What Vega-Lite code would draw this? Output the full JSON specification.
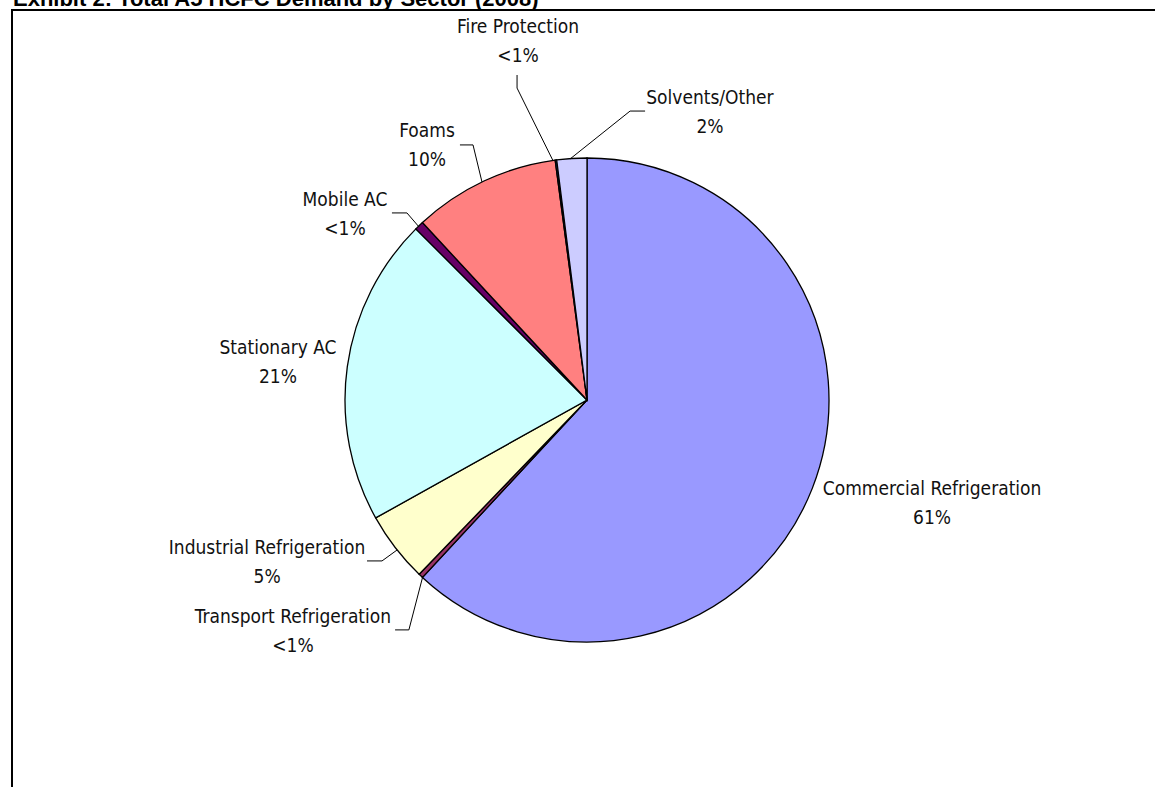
{
  "$schema": "https://vega.github.io/schema/vega-lite/v6.json",
  "width": 1150,
  "height": 780,
  "autosize": {"type": "none"},
  "padding": {"left": 12, "top": 10, "right": 0, "bottom": 0},
  "background": "white",
  "config": {
    "view": {"stroke": "#000000", "strokeWidth": 2},
    "font": "Liberation Sans"
  },
  "datasets": {
    "heading": [
      {"text": "Exhibit 2: Total A5 HCFC Demand by Sector (2008)", "x": -2.372, "y": 1.628}
    ],
    "slices": [
      {"sector": "Commercial Refrigeration", "idx": 1, "share": 61.9},
      {"sector": "Transport Refrigeration", "idx": 2, "share": 0.3},
      {"sector": "Industrial Refrigeration", "idx": 3, "share": 4.7},
      {"sector": "Stationary AC", "idx": 4, "share": 20.6},
      {"sector": "Mobile AC", "idx": 5, "share": 0.6},
      {"sector": "Foams", "idx": 6, "share": 9.8},
      {"sector": "Fire Protection", "idx": 7, "share": 0.1},
      {"sector": "Solvents/Other", "idx": 8, "share": 2.0}
    ],
    "labels": [
      {"sector": "Commercial Refrigeration", "label": "Commercial Refrigeration\n61%", "x": 1.426, "y": -0.426},
      {"sector": "Transport Refrigeration", "label": "Transport Refrigeration\n<1%", "x": -1.215, "y": -0.955},
      {"sector": "Industrial Refrigeration", "label": "Industrial Refrigeration\n5%", "x": -1.322, "y": -0.669},
      {"sector": "Stationary AC", "label": "Stationary AC\n21%", "x": -1.277, "y": 0.157},
      {"sector": "Mobile AC", "label": "Mobile AC\n<1%", "x": -1.0, "y": 0.767},
      {"sector": "Foams", "label": "Foams\n10%", "x": -0.661, "y": 1.054},
      {"sector": "Fire Protection", "label": "Fire Protection\n<1%", "x": -0.285, "y": 1.484},
      {"sector": "Solvents/Other", "label": "Solvents/Other\n2%", "x": 0.508, "y": 1.19}
    ],
    "leaders": [
      {"sector": "Fire Protection", "seq": 1, "x": -0.14, "y": 0.988},
      {"sector": "Fire Protection", "seq": 2, "x": -0.289, "y": 1.289},
      {"sector": "Fire Protection", "seq": 3, "x": -0.289, "y": 1.343},
      {"sector": "Solvents/Other", "seq": 1, "x": -0.07, "y": 0.996},
      {"sector": "Solvents/Other", "seq": 2, "x": 0.178, "y": 1.194},
      {"sector": "Solvents/Other", "seq": 3, "x": 0.24, "y": 1.194},
      {"sector": "Foams", "seq": 1, "x": -0.434, "y": 0.901},
      {"sector": "Foams", "seq": 2, "x": -0.471, "y": 1.054},
      {"sector": "Foams", "seq": 3, "x": -0.525, "y": 1.054},
      {"sector": "Mobile AC", "seq": 1, "x": -0.694, "y": 0.715},
      {"sector": "Mobile AC", "seq": 2, "x": -0.744, "y": 0.773},
      {"sector": "Mobile AC", "seq": 3, "x": -0.806, "y": 0.773},
      {"sector": "Industrial Refrigeration", "seq": 1, "x": -0.785, "y": -0.62},
      {"sector": "Industrial Refrigeration", "seq": 2, "x": -0.847, "y": -0.665},
      {"sector": "Industrial Refrigeration", "seq": 3, "x": -0.909, "y": -0.665},
      {"sector": "Transport Refrigeration", "seq": 1, "x": -0.678, "y": -0.727},
      {"sector": "Transport Refrigeration", "seq": 2, "x": -0.736, "y": -0.95},
      {"sector": "Transport Refrigeration", "seq": 3, "x": -0.793, "y": -0.95}
    ]
  },
  "layer": [
    {
      "data": {"name": "slices"},
      "mark": {"type": "arc", "outerRadius": 242, "stroke": "#000000", "strokeWidth": 1.3},
      "encoding": {
        "theta": {"field": "share", "type": "quantitative", "stack": true},
        "order": {"field": "idx", "type": "quantitative"},
        "color": {
          "field": "sector",
          "type": "nominal",
          "legend": null,
          "scale": {
            "domain": ["Commercial Refrigeration", "Transport Refrigeration", "Industrial Refrigeration", "Stationary AC", "Mobile AC", "Foams", "Fire Protection", "Solvents/Other"],
            "range": ["#9999FF", "#993366", "#FFFFCC", "#CCFFFF", "#660066", "#FF8080", "#0066CC", "#CCCCFF"]
          }
        }
      }
    },
    {
      "data": {"name": "leaders"},
      "mark": {"type": "line", "color": "#000000", "strokeWidth": 1},
      "encoding": {
        "x": {"field": "x", "type": "quantitative", "axis": null, "scale": {"domain": [-2.376, 2.376], "nice": false, "zero": false}},
        "y": {"field": "y", "type": "quantitative", "axis": null, "scale": {"domain": [-1.6116, 1.6116], "nice": false, "zero": false}},
        "detail": {"field": "sector", "type": "nominal"},
        "order": {"field": "seq", "type": "quantitative"}
      }
    },
    {
      "data": {"name": "labels"},
      "mark": {"type": "text", "font": "Liberation Sans Narrow, Arial Narrow, DejaVu Sans Condensed, Liberation Sans", "fontSize": 19, "lineHeight": 29, "lineBreak": "\n", "align": "center", "baseline": "middle", "dy": -14, "color": "#111111"},
      "encoding": {
        "x": {"field": "x", "type": "quantitative", "axis": null, "scale": {"domain": [-2.376, 2.376], "nice": false, "zero": false}},
        "y": {"field": "y", "type": "quantitative", "axis": null, "scale": {"domain": [-1.6116, 1.6116], "nice": false, "zero": false}},
        "text": {"field": "label", "type": "nominal"}
      }
    },
    {
      "data": {"name": "heading"},
      "mark": {"type": "text", "font": "Liberation Sans", "fontWeight": "bold", "fontSize": 22, "align": "left", "baseline": "alphabetic", "color": "#000000"},
      "encoding": {
        "x": {"field": "x", "type": "quantitative", "axis": null, "scale": {"domain": [-2.376, 2.376], "nice": false, "zero": false}},
        "y": {"field": "y", "type": "quantitative", "axis": null, "scale": {"domain": [-1.6116, 1.6116], "nice": false, "zero": false}},
        "text": {"field": "text", "type": "nominal"}
      }
    }
  ]
}
